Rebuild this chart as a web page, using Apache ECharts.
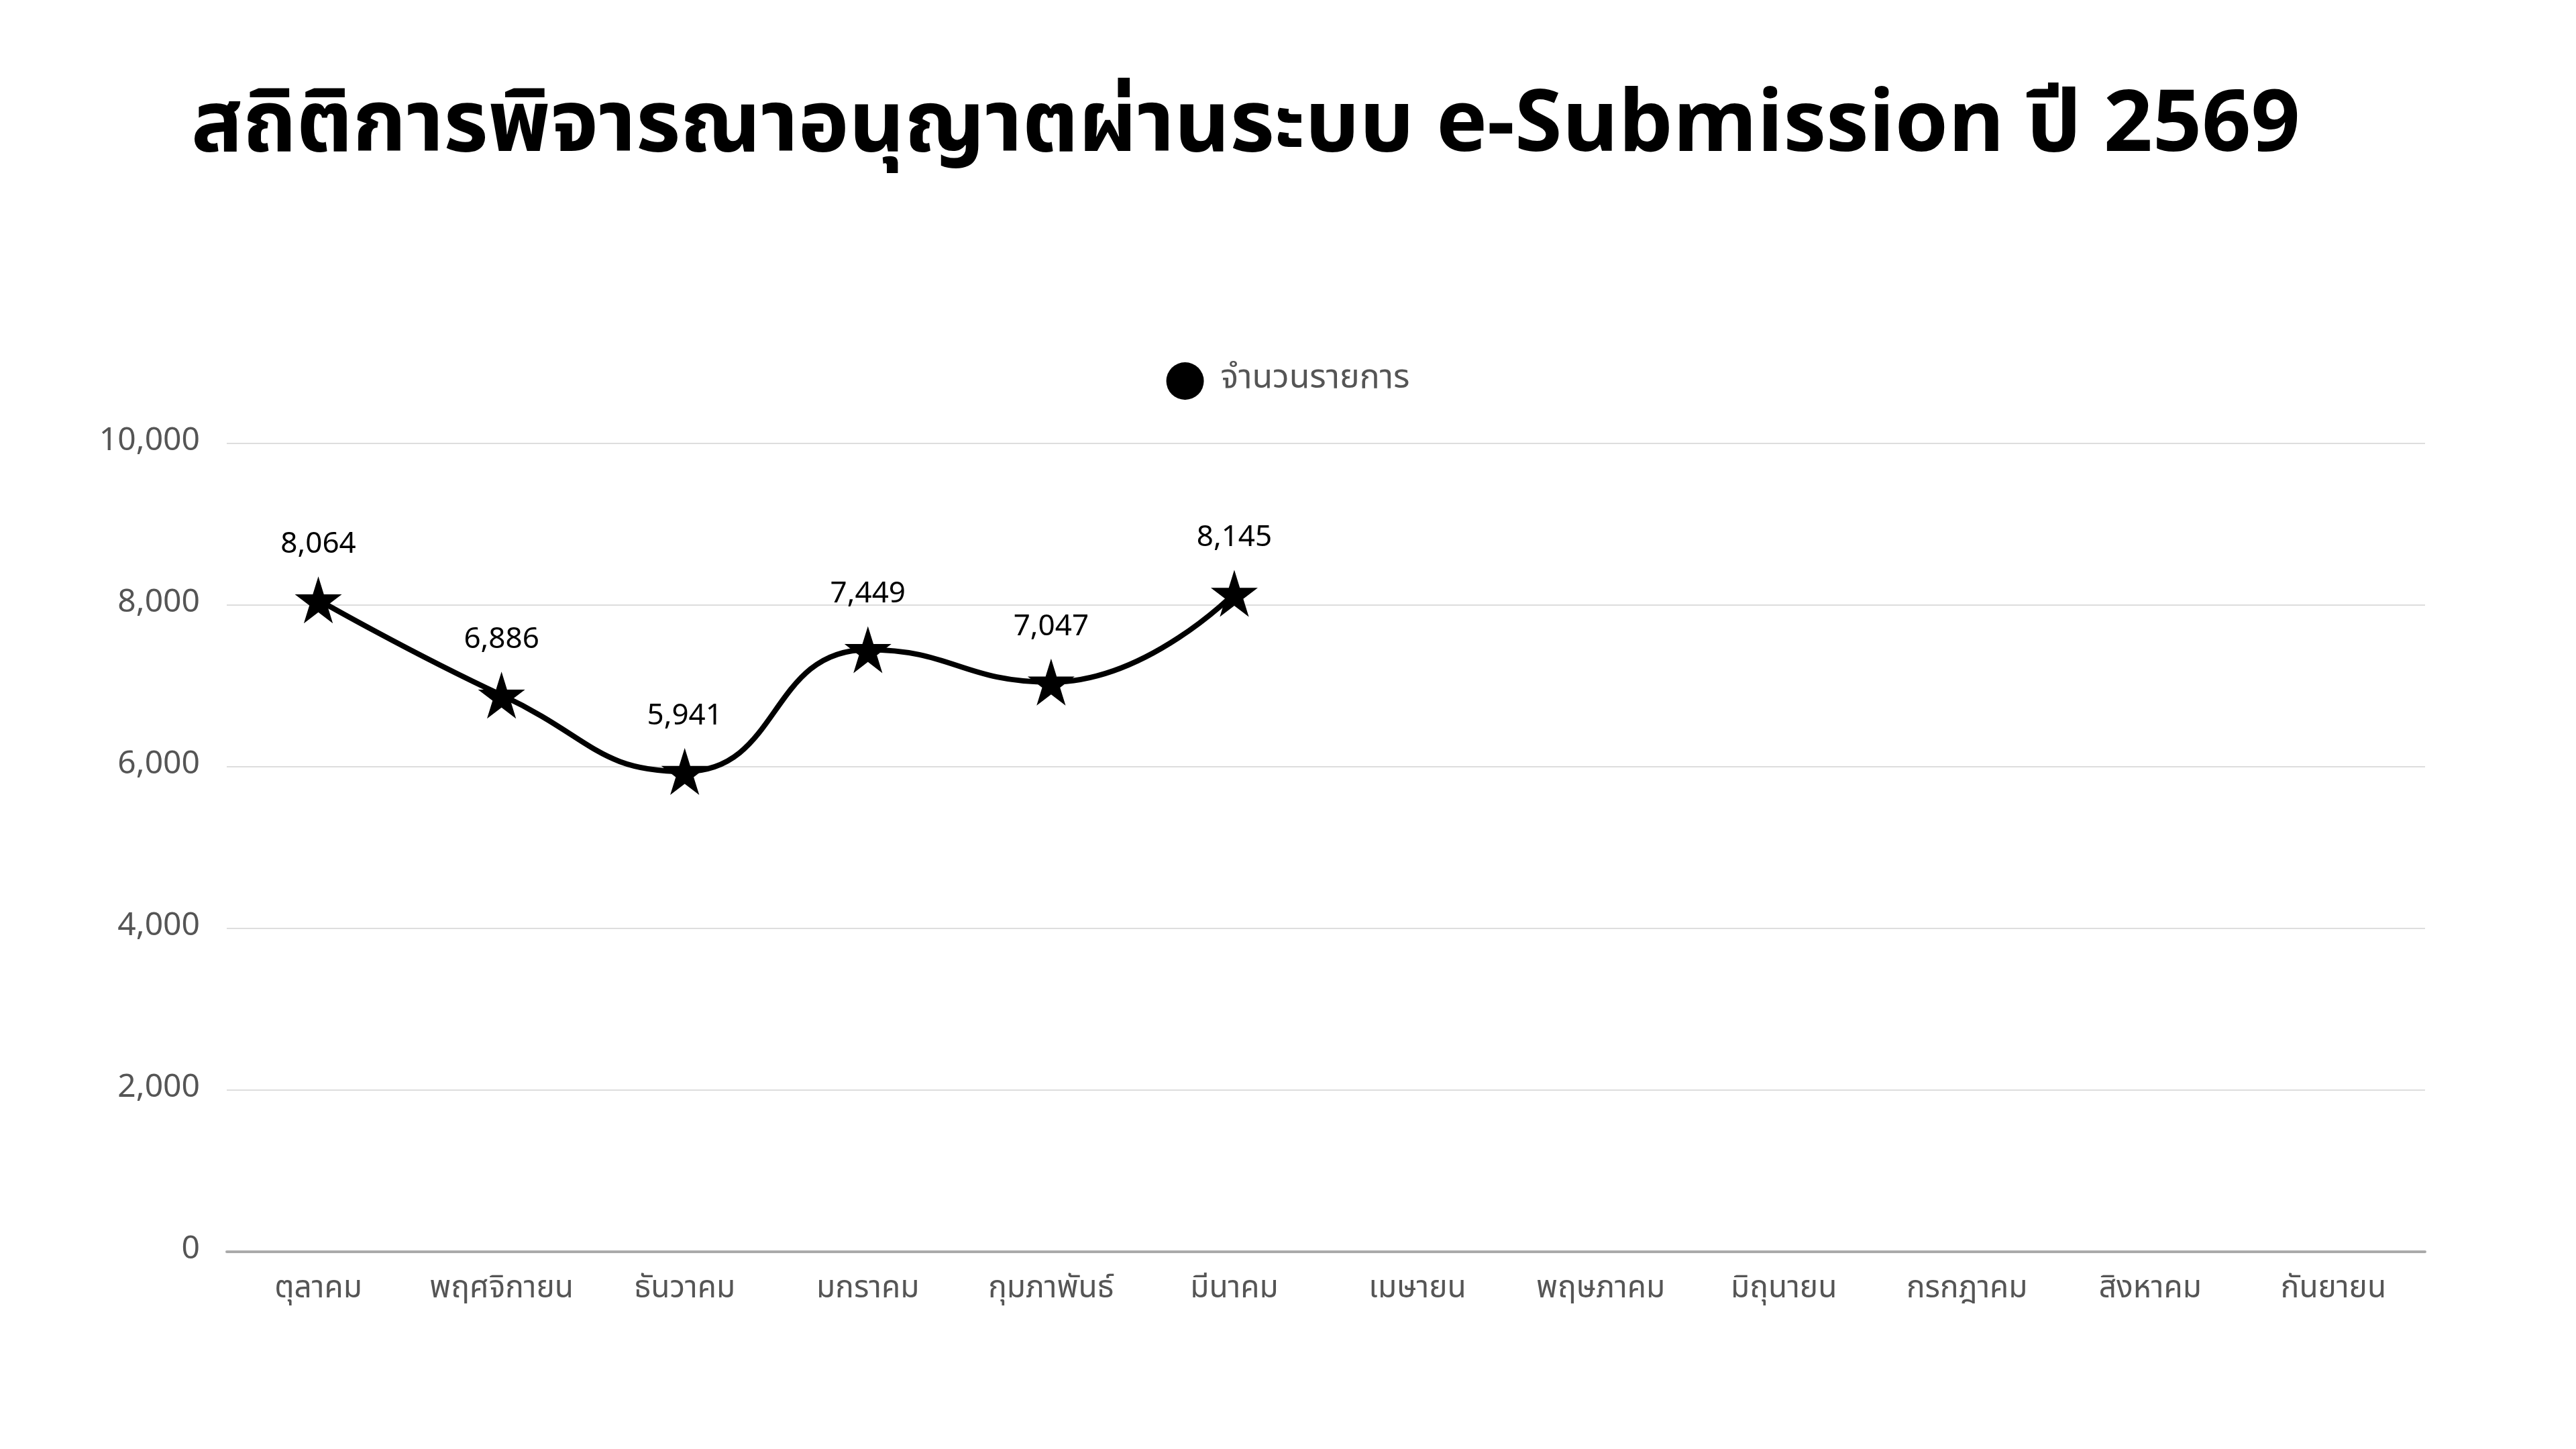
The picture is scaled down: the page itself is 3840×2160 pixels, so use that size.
<!DOCTYPE html>
<html><head><meta charset="utf-8">
<script src="https://cdn.jsdelivr.net/npm/echarts@6/dist/echarts.min.js"></script>
<style>html,body{margin:0;background:#fff}#c{width:3840px;height:2160px}</style>
</head><body><div id="c"></div>
<script>
const titleText = 'สถิติการพิจารณาอนุญาตผ่านระบบ e-Submission ปี 2569';
const seriesName = 'จำนวนรายการ';
const categories = ['ตุลาคม','พฤศจิกายน','ธันวาคม','มกราคม','กุมภาพันธ์','มีนาคม','เมษายน','พฤษภาคม','มิถุนายน','กรกฎาคม','สิงหาคม','กันยายน'];
const values = [8064, 6886, 5941, 7449, 7047, 8145];
const font = '"Noto Sans Thai","Noto Sans","DejaVu Sans",sans-serif';
const chart = echarts.init(document.getElementById('c'));
chart.setOption({
  backgroundColor:'#fff',
  title:{text:titleText,left:280,top:130,textStyle:{fontFamily:font,fontSize:128,fontWeight:'bold',color:'#000'}},
  legend:{top:535,left:'center',itemWidth:56,itemHeight:56,itemGap:30,icon:'circle',
    textStyle:{fontFamily:font,fontSize:50,color:'#555',padding:[0,0,0,20]},data:[seriesName]},
  grid:{left:338,right:225,top:661,bottom:294,containLabel:false},
  xAxis:{type:'category',data:categories,boundaryGap:true,
    axisLine:{lineStyle:{color:'#aaa',width:4}},axisTick:{show:false},
    axisLabel:{interval:0,fontFamily:font,fontSize:46,color:'#555',margin:36}},
  yAxis:{type:'value',min:0,max:10000,interval:2000,
    axisLabel:{fontFamily:font,fontSize:48,color:'#555',margin:40,formatter:v=>v.toLocaleString('en-US')},
    splitLine:{lineStyle:{color:'#ddd',width:2}}},
  series:[{name:seriesName,type:'line',data:values,smooth:true,symbol:'path://M50,0 L61.8,36.2 L100,36.2 L69.1,58.8 L80.9,95.1 L50,72.6 L19.1,95.1 L30.9,58.8 L0,36.2 L38.2,36.2 Z',symbolSize:70,
    lineStyle:{color:'#000',width:8},itemStyle:{color:'#000'},
    label:{show:true,position:'top',distance:22,fontFamily:font,fontSize:44,color:'#000',formatter:p=>p.value.toLocaleString('en-US')}}]
});
</script></body></html>
